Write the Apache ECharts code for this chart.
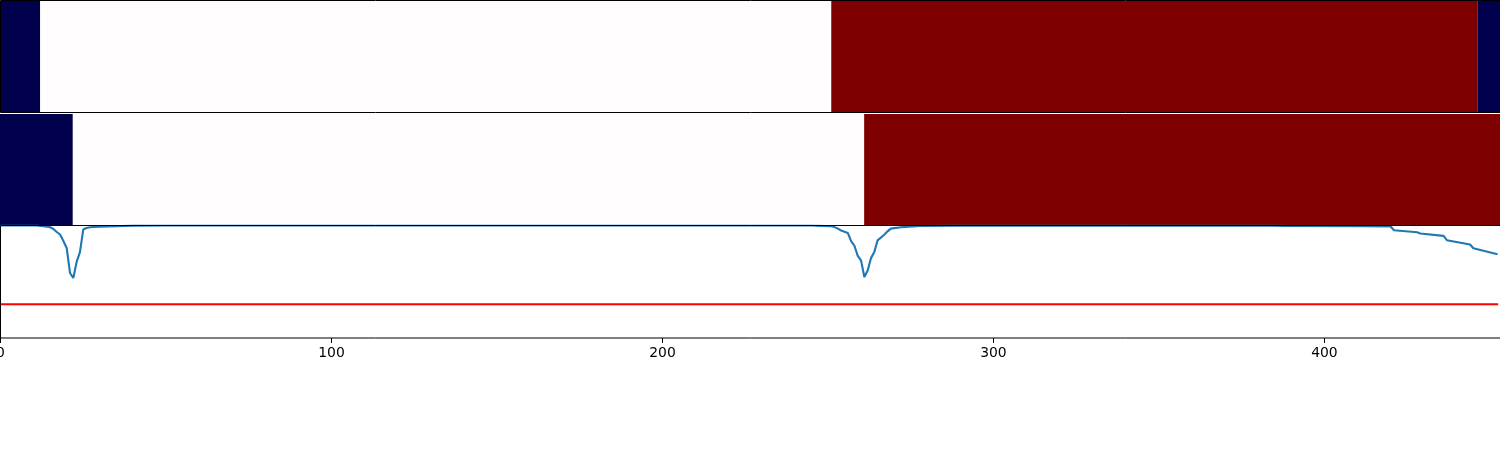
<!DOCTYPE html>
<html><head><meta charset="utf-8">
<style>html,body{margin:0;padding:0;background:#fff}#c{width:1500px;height:450px}</style>
<script src="https://cdn.jsdelivr.net/npm/echarts@6/dist/echarts.min.js"></script>
</head><body><div id="c"></div>
<script>
const xMax = 453.2;
const tickLabels = [0, 100, 200, 300, 400];
const row1Edges = [0, 12, 251, 446.2, 453.2];
const row1States = ['low', 'mid', 'high', 'low'];
const row2Edges = [0, 22, 261, 453.2];
const row2States = ['low', 'mid', 'high'];
const lineX = [0,11,12,13,14,15,16,17,18,19,20,21,22,23,24,25,26,27,28,30,35,40,50,
  245,248,251,252,253,254,256,257,258,259,260,261,262,263,264,265,267,268,269,272,278,290,
  380,388,411,420,421,428,429,436,437,444,445,452.3];
const lineY = [1,1,.996,.993,.99,.984,.969,.942,.92,.862,.80,.578,.533,.676,.764,.964,.978,.984,.987,.989,.994,.999,1,
  1,.997,.993,.986,.972,.955,.934,.862,.82,.73,.69,.542,.60,.71,.764,.868,.918,.948,.972,.984,.996,.999,
  .9995,.997,.994,.991,.958,.94,.929,.908,.869,.831,.798,.744];
const thresholdX = [0, 452.5];
const thresholdY = [0.3, 0.3];
const colors = {low:'#00004c', mid:'#fffdfd', high:'#7f0000'};

function bandSeries(idx, edges, states){
  return {type:'custom', xAxisIndex:idx, yAxisIndex:idx, clip:true, z:1,
    data:states.map((s,i)=>[edges[i],edges[i+1]]),
    encode:{x:[0,1]},
    renderItem(params, api){
      const a=api.coord([api.value(0),1]), b=api.coord([api.value(1),0]);
      return {type:'rect', shape:{x:a[0],y:a[1],width:b[0]-a[0],height:b[1]-a[1]},
        style:{fill:colors[states[params.dataIndex]]}};
    }, silent:true};
}
const grids=[{left:0.5,width:1500,top:0.5,height:112,show:true},
             {left:0,width:1500.5,top:114,height:111,show:false},
             {left:0.5,width:1500,top:225.5,height:112.5,show:true}];
const spine={borderColor:'#000',borderWidth:1,z:10,outerBoundsMode:'none',containLabel:false};
const hiddenX=i=>({type:'value',gridIndex:i,min:0,max:xMax,axisLine:{show:false},axisTick:{show:false},axisLabel:{show:false},splitLine:{show:false}});
const hiddenY=i=>({type:'value',gridIndex:i,min:0,max:1,axisLine:{show:false},axisTick:{show:false},axisLabel:{show:false},splitLine:{show:false}});
const chart=echarts.init(document.getElementById('c'),null,{renderer:'canvas'});
chart.setOption({
  animation:false, backgroundColor:'#fff',
  grid:grids.map(g=>({...spine,...g})),
  xAxis:[hiddenX(0),hiddenX(1),{type:'value',gridIndex:2,min:0,max:xMax,position:'bottom',
    axisLine:{show:false},
    axisTick:{show:true,length:5,inside:false,lineStyle:{color:'#000',width:1},customValues:tickLabels},
    axisLabel:{show:true,customValues:tickLabels,color:'#000',fontFamily:'DejaVu Sans',fontSize:13.9,margin:8,hideOverlap:false},
    splitLine:{show:false}}],
  yAxis:[hiddenY(0),hiddenY(1),hiddenY(2)],
  series:[
    bandSeries(0,row1Edges,row1States),
    bandSeries(1,row2Edges,row2States),
    {type:'line',xAxisIndex:2,yAxisIndex:2,data:lineX.map((x,i)=>[x,lineY[i]]),showSymbol:false,symbol:'none',
      lineStyle:{color:'#1f77b4',width:2.1},clip:true,silent:true},
    {type:'line',xAxisIndex:2,yAxisIndex:2,data:thresholdX.map((x,i)=>[x,thresholdY[i]]),showSymbol:false,symbol:'none',
      lineStyle:{color:'#ff0000',width:2.1},clip:true,silent:true}
  ]
});
</script></body></html>
